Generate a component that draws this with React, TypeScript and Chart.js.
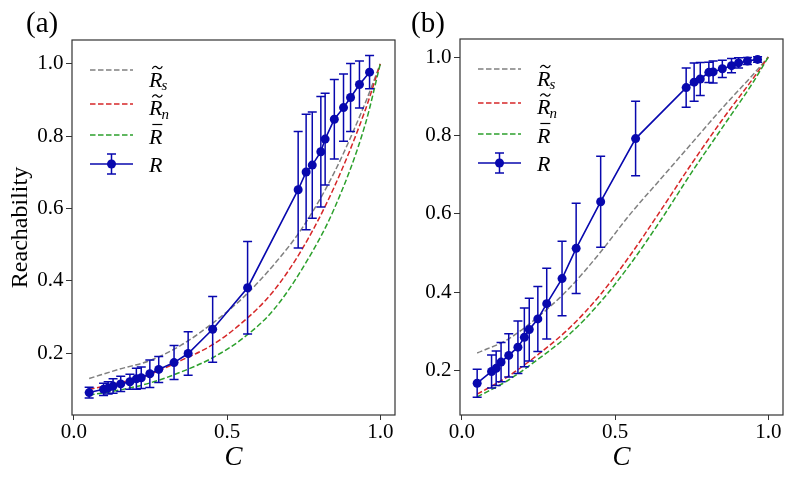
import React, { useEffect, useRef } from "react";
import { Chart, registerables } from "chart.js";

Chart.register(...registerables);

// ---------------- data ----------------
const C_VALUES = [0.05, 0.097, 0.112, 0.128, 0.153, 0.183, 0.204, 0.22, 0.248, 0.277, 0.327, 0.373, 0.453, 0.567, 0.732, 0.758, 0.778, 0.806, 0.82, 0.85, 0.88, 0.903, 0.932, 0.965];

const R_A = [0.091, 0.1, 0.104, 0.109, 0.115, 0.121, 0.129, 0.132, 0.143, 0.155, 0.174, 0.199, 0.266, 0.381, 0.652, 0.701, 0.72, 0.757, 0.792, 0.847, 0.879, 0.907, 0.943, 0.977];
const ERR_A = [0.015, 0.017, 0.017, 0.02, 0.021, 0.021, 0.029, 0.03, 0.038, 0.036, 0.047, 0.06, 0.091, 0.128, 0.161, 0.16, 0.147, 0.153, 0.127, 0.11, 0.093, 0.094, 0.065, 0.046];

const R_B = [0.168, 0.198, 0.206, 0.222, 0.239, 0.26, 0.285, 0.305, 0.332, 0.371, 0.435, 0.512, 0.631, 0.792, 0.922, 0.936, 0.944, 0.961, 0.962, 0.97, 0.978, 0.985, 0.99, 0.994];
const ERR_B = [0.036, 0.042, 0.044, 0.05, 0.055, 0.067, 0.075, 0.08, 0.083, 0.09, 0.095, 0.115, 0.116, 0.095, 0.05, 0.049, 0.042, 0.026, 0.028, 0.022, 0.018, 0.013, 0.009, 0.007];

const C_CURVE = [0.05, 0.15, 0.25, 0.35, 0.45, 0.55, 0.65, 0.75, 0.85, 0.95, 1.0];
const RS_A = [0.13, 0.156, 0.18, 0.222, 0.281, 0.352, 0.442, 0.552, 0.7, 0.89, 1.0];
const RN_A = [0.1, 0.118, 0.142, 0.18, 0.222, 0.285, 0.37, 0.495, 0.66, 0.87, 1.0];
const RBAR_A = [0.084, 0.098, 0.118, 0.148, 0.186, 0.24, 0.318, 0.44, 0.6, 0.83, 1.0];

const RS_B = [0.245, 0.28, 0.338, 0.41, 0.5, 0.6, 0.69, 0.78, 0.87, 0.955, 1.0];
const RN_B = [0.14, 0.185, 0.242, 0.308, 0.392, 0.495, 0.61, 0.728, 0.84, 0.945, 1.0];
const RBAR_B = [0.133, 0.175, 0.23, 0.292, 0.373, 0.472, 0.585, 0.706, 0.82, 0.935, 1.0];

const X_TICKS = [0, 0.5, 1.0];
const Y_TICKS = [0.2, 0.4, 0.6, 0.8, 1.0];

// ---------------- style ----------------
const GRAY = "#808080";
const RED = "#d62728";
const GREEN = "#2ca02c";
const BLUE = "#0808ae";
const AXIS = "#333333";
const SERIF = "'Liberation Serif', 'Times New Roman', serif";
const H = 484;

type PanelCfg = {
  id: string;
  label: string;
  left: number;
  width: number;
  padTop: number;
  padRight: number;
  yAxisWidth: number;
  yMin: number;
  yMax: number;
  yTitle: boolean;
  rs: number[];
  rn: number[];
  rbar: number[];
  r: number[];
  err: number[];
};

const PANELS: PanelCfg[] = [
  { id: "a", label: "(a)", left: 0, width: 410, padTop: 40, padRight: 15, yAxisWidth: 72, yMin: 0.029, yMax: 1.066, yTitle: true, rs: RS_A, rn: RN_A, rbar: RBAR_A, r: R_A, err: ERR_A },
  { id: "b", label: "(b)", left: 410, width: 386, padTop: 39, padRight: 13, yAxisWidth: 50, yMin: 0.087, yMax: 1.046, yTitle: false, rs: RS_B, rn: RN_B, rbar: RBAR_B, r: R_B, err: ERR_B },
];

const BLUE_INDEX = 3;

function drawErrorBar(ctx: CanvasRenderingContext2D, x: number, yTop: number, yBot: number, cap: number) {
  ctx.beginPath();
  ctx.moveTo(x, yTop);
  ctx.lineTo(x, yBot);
  ctx.moveTo(x - cap, yTop);
  ctx.lineTo(x + cap, yTop);
  ctx.moveTo(x - cap, yBot);
  ctx.lineTo(x + cap, yBot);
  ctx.stroke();
}

const errorBarPlugin = {
  id: "errorBars",
  beforeDatasetDraw(chart: any, args: any, opts: any) {
    if (args.index !== BLUE_INDEX) return;
    const { ctx, scales } = chart;
    const vals: number[] = opts.values;
    const errs: number[] = opts.errors;
    ctx.save();
    ctx.strokeStyle = BLUE;
    ctx.lineWidth = 1.5;
    for (let i = 0; i < vals.length; i++) {
      const x = scales.x.getPixelForValue(C_VALUES[i]);
      const yT = scales.y.getPixelForValue(vals[i] + errs[i]);
      const yB = scales.y.getPixelForValue(vals[i] - errs[i]);
      drawErrorBar(ctx, x, yT, yB, 4.5);
    }
    ctx.restore();
  },
};

const boxPlugin = {
  id: "box",
  afterDraw(chart: any) {
    const { ctx, chartArea: a } = chart;
    ctx.save();
    ctx.strokeStyle = AXIS;
    ctx.lineWidth = 1.2;
    ctx.strokeRect(a.left, a.top, a.right - a.left, a.bottom - a.top);
    ctx.restore();
  },
};

type LegendRow = { color: string; dash: boolean; accent: "tilde" | "bar" | null; sub: string; lineDy: number; baseDy: number };
const LEGEND_ROWS: LegendRow[] = [
  { color: GRAY, dash: true, accent: "tilde", sub: "s", lineDy: 30, baseDy: 46.5 },
  { color: RED, dash: true, accent: "tilde", sub: "n", lineDy: 64, baseDy: 75 },
  { color: GREEN, dash: true, accent: "bar", sub: "", lineDy: 95, baseDy: 103.5 },
  { color: BLUE, dash: false, accent: null, sub: "", lineDy: 124, baseDy: 131.5 },
];

const legendPlugin = {
  id: "mathLegend",
  afterDraw(chart: any) {
    const { ctx, chartArea: a } = chart;
    const x0 = a.left + 18;
    const x1 = x0 + 43;
    const tx = a.left + 77;
    ctx.save();
    for (const row of LEGEND_ROWS) {
      const ly = a.top + row.lineDy;
      ctx.strokeStyle = row.color;
      ctx.lineWidth = 1.5;
      ctx.setLineDash(row.dash ? [5.5, 2.5] : []);
      ctx.beginPath();
      ctx.moveTo(x0, ly);
      ctx.lineTo(x1, ly);
      ctx.stroke();
      ctx.setLineDash([]);
      if (!row.dash) {
        const cx = (x0 + x1) / 2;
        drawErrorBar(ctx, cx, ly - 10, ly + 10, 4.5);
        ctx.fillStyle = BLUE;
        ctx.beginPath();
        ctx.arc(cx, ly, 4.5, 0, Math.PI * 2);
        ctx.fill();
      }
      // text
      const by = a.top + row.baseDy;
      ctx.fillStyle = "#000";
      ctx.font = `italic 22px ${SERIF}`;
      ctx.textAlign = "left";
      ctx.textBaseline = "alphabetic";
      ctx.fillText("R", tx, by);
      const w = ctx.measureText("R").width;
      const ax = tx + w * 0.62;
      const ay = by - 19;
      ctx.strokeStyle = "#000";
      ctx.lineWidth = 1.2;
      if (row.accent === "tilde") {
        ctx.beginPath();
        ctx.moveTo(ax - 5, ay + 1.3);
        ctx.bezierCurveTo(ax - 3.4, ay - 2, ax - 1.2, ay - 1.3, ax, ay);
        ctx.bezierCurveTo(ax + 1.2, ay + 1.3, ax + 3.4, ay + 2, ax + 5, ay - 1.3);
        ctx.stroke();
      } else if (row.accent === "bar") {
        ctx.beginPath();
        ctx.moveTo(ax - 5, ay);
        ctx.lineTo(ax + 5, ay);
        ctx.stroke();
      }
      if (row.sub) {
        ctx.font = `italic 15px ${SERIF}`;
        ctx.fillText(row.sub, tx + w - 1, by + 3.5);
      }
    }
    ctx.restore();
  },
};

function Panel({ cfg }: { cfg: PanelCfg }) {
  const ref = useRef<HTMLCanvasElement>(null);
  useEffect(() => {
    const curve = (vals: number[]) => C_CURVE.map((c, i) => ({ x: c, y: vals[i] }));
    const dashed = (label: string, vals: number[], color: string, order: number) => ({
      label,
      data: curve(vals),
      borderColor: color,
      borderWidth: 1.5,
      borderDash: [5.5, 2.5],
      pointRadius: 0,
      showLine: true,
      fill: false,
      cubicInterpolationMode: "monotone" as const,
      order,
    });
    const tickFont = { family: SERIF, size: 21, lineHeight: 1 };
    const chart = new Chart(ref.current!, {
      type: "scatter",
      data: {
        datasets: [
          dashed("Rs", cfg.rs, GRAY, 4),
          dashed("Rn", cfg.rn, RED, 3),
          dashed("Rbar", cfg.rbar, GREEN, 2),
          {
            label: "R",
            data: C_VALUES.map((c, i) => ({ x: c, y: cfg.r[i] })),
            borderColor: BLUE,
            backgroundColor: BLUE,
            borderWidth: 1.6,
            showLine: true,
            pointRadius: 4.5,
            pointBorderWidth: 0,
            pointBackgroundColor: BLUE,
            tension: 0,
            order: 1,
          } as any,
        ],
      },
      options: {
        responsive: false,
        animation: false,
        devicePixelRatio: 1,
        events: [],
        layout: { padding: { left: 0, top: cfg.padTop, right: cfg.padRight, bottom: 0 } },
        plugins: {
          legend: { display: false },
          tooltip: { enabled: false },
          errorBars: { values: cfg.r, errors: cfg.err },
        } as any,
        scales: {
          x: {
            type: "linear",
            min: -0.006,
            max: 1.048,
            afterBuildTicks: (s: any) => {
              s.ticks = X_TICKS.map((v) => ({ value: v }));
            },
            afterFit: (s: any) => {
              s.height = H - 415;
            },
            ticks: {
              callback: (v: any) => Number(v).toFixed(1),
              font: tickFont,
              color: "#000",
              padding: 2,
              maxRotation: 0,
              autoSkip: false,
            },
            grid: { drawOnChartArea: false, drawTicks: true, tickLength: 5, color: AXIS, tickColor: AXIS, tickWidth: 1 },
            border: { display: false },
            title: {
              display: true,
              text: "C",
              color: "#000",
              font: { family: SERIF, size: 27, style: "italic", lineHeight: 1.2 },
              padding: { top: 0, bottom: 10 },
            },
          },
          y: {
            type: "linear",
            min: cfg.yMin,
            max: cfg.yMax,
            afterBuildTicks: (s: any) => {
              s.ticks = Y_TICKS.map((v) => ({ value: v }));
            },
            afterFit: (s: any) => {
              s.width = cfg.yAxisWidth;
            },
            ticks: {
              callback: (v: any) => Number(v).toFixed(1),
              font: tickFont,
              color: "#000",
              padding: 2.5,
            },
            grid: { drawOnChartArea: false, drawTicks: true, tickLength: 6, color: AXIS, tickColor: AXIS, tickWidth: 1 },
            border: { display: false },
            title: {
              display: cfg.yTitle,
              text: "Reachability",
              color: "#000",
              font: { family: SERIF, size: 24, lineHeight: 1.2 },
              padding: { top: 6, bottom: 0 },
            },
          },
        },
      },
      plugins: [errorBarPlugin, boxPlugin, legendPlugin],
    } as any);
    return () => chart.destroy();
  }, [cfg]);
  return (
    <canvas
      ref={ref}
      width={cfg.width}
      height={H}
      style={{ position: "absolute", left: cfg.left, top: 0, width: cfg.width, height: H }}
    />
  );
}

export default function App() {
  return (
    <div style={{ position: "fixed", left: 0, top: 0, width: 796, height: H, background: "#fff", overflow: "hidden" }}>
      {PANELS.map((p) => (
        <Panel key={p.id} cfg={p} />
      ))}
      <div style={{ position: "absolute", left: 26, top: 5, fontFamily: SERIF, fontSize: 29, lineHeight: "34px", color: "#000" }}>(a)</div>
      <div style={{ position: "absolute", left: 411, top: 5, fontFamily: SERIF, fontSize: 29, lineHeight: "34px", color: "#000" }}>(b)</div>
    </div>
  );
}
